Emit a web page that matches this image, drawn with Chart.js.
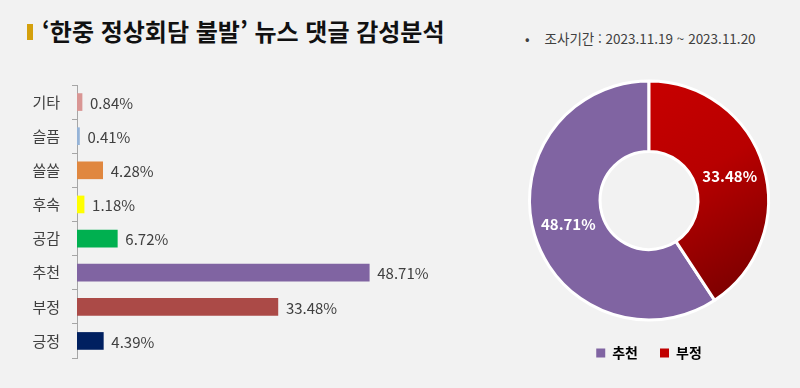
<!DOCTYPE html>
<html lang="ko">
<head>
<meta charset="utf-8">
<script src="https://cdn.jsdelivr.net/npm/chart.js@4.4.0/dist/chart.umd.min.js"></script>
<style>
  html, body { margin: 0; padding: 0; }
  body {
    width: 800px; height: 388px; background: #f2f2f2; position: relative; overflow: hidden;
    font-family: "Noto Sans CJK KR", "Noto Sans", sans-serif;
  }
  .mark { position: absolute; left: 27px; top: 24px; width: 6px; height: 16px; background: #d4a00c; }
  .title {
    position: absolute; left: 42px; top: 13px; font-size: 24px; font-weight: bold; color: #111;
    white-space: nowrap;
  }
  .period { position: absolute; left: 525px; top: 28px; font-size: 13.5px; color: #404040; white-space: nowrap; }
  .period span { margin-right: 15px; }
  #barWrap { position: absolute; left: 0; top: 0; width: 480px; height: 388px; }
  #donutWrap { position: absolute; left: 520px; top: 69px; width: 258px; height: 316px; }
</style>
</head>
<body>
<div class="mark"></div>
<div class="title">‘한중 정상회담 불발’ 뉴스 댓글 감성분석</div>
<div class="period"><span>•</span>조사기간 : 2023.11.19 ~ 2023.11.20</div>
<div id="barWrap"><canvas id="barChart"></canvas></div>
<div id="donutWrap"><canvas id="donutChart"></canvas></div>

<script>
// 감성 분류별 비율 (%)
const categories = ['기타', '슬픔', '쓸쓸', '후속', '공감', '추천', '부정', '긍정'];
const shares = [0.84, 0.41, 4.28, 1.18, 6.72, 48.71, 33.48, 4.39];
const barColors = ['#d99694', '#95b3d7', '#e0873f', '#ffff00', '#00b050', '#8064a2', '#ab4a47', '#002060'];

// 도넛 (추천 / 부정)
const donutLabels = ['추천', '부정'];
const donutValues = [48.71, 33.48];
const donutColors = ['#8064a2', '#c00000'];

const xMax = 60;
const fontFamily = '"Noto Sans CJK KR", "Noto Sans", sans-serif';

// 막대 끝에 값 표시
const barValueLabels = {
    id: 'barValueLabels',
    afterDatasetsDraw(chart) {
        const ctx = chart.ctx;
        const meta = chart.getDatasetMeta(0);
        ctx.save();
        ctx.font = '15px ' + fontFamily;
        ctx.fillStyle = '#404040';
        ctx.textBaseline = 'middle';
        ctx.textAlign = 'left';
        meta.data.forEach((bar, i) => {
            ctx.fillText(shares[i].toFixed(2) + '%', bar.x + 8, bar.y + 1);
        });
        ctx.restore();
    }
};

new Chart(document.getElementById('barChart'), {
    type: 'bar',
    data: {
        labels: categories,
        datasets: [{
            data: shares,
            backgroundColor: barColors,
            barThickness: 17
        }]
    },
    options: {
        indexAxis: 'y',
        responsive: true,
        maintainAspectRatio: false,
        animation: false,
        layout: { padding: { left: 0, right: 43, top: 85, bottom: 30 } },
        plugins: { legend: { display: false }, tooltip: { enabled: false } },
        scales: {
            x: { display: false, min: 0, max: xMax },
            y: {
                afterFit(scale) { scale.width = 77; },
                border: { color: '#a6a6a6' },
                grid: { drawOnChartArea: false, tickLength: 5, color: '#a6a6a6' },
                ticks: { color: '#404040', padding: 12, font: { size: 15, family: fontFamily } }
            }
        }
    },
    plugins: [barValueLabels]
});

// 도넛 조각 위 퍼센트
const donutValueLabels = {
    id: 'donutValueLabels',
    afterDatasetsDraw(chart) {
        const ctx = chart.ctx;
        const meta = chart.getDatasetMeta(0);
        ctx.save();
        ctx.font = 'bold 15px ' + fontFamily;
        ctx.fillStyle = '#ffffff';
        ctx.textAlign = 'center';
        ctx.textBaseline = 'middle';
        meta.data.forEach((arc, i) => {
            const p = arc.getCenterPoint();
            ctx.fillText(donutValues[i].toFixed(2) + '%', p.x, p.y);
        });
        ctx.restore();
    }
};

const donutTotal = donutValues.reduce((a, b) => a + b, 0);

new Chart(document.getElementById('donutChart'), {
    type: 'doughnut',
    data: {
        labels: donutLabels,
        datasets: [{
            data: donutValues,
            backgroundColor(c) {
                if (c.dataIndex !== 1) return donutColors[0];
                const area = c.chart.chartArea;
                if (!area) return donutColors[1];
                const cx = (area.left + area.right) / 2;
                const g = c.chart.ctx.createLinearGradient(cx, area.top, area.right, area.bottom - 40);
                g.addColorStop(0, '#c80000');
                g.addColorStop(0.45, '#b80000');
                g.addColorStop(1, '#780000');
                return g;
            },
            borderColor: '#ffffff',
            borderWidth: 3
        }]
    },
    options: {
        responsive: true,
        maintainAspectRatio: false,
        animation: false,
        cutout: '41%',
        // 부정 조각이 12시 방향에서 시작하도록 회전
        rotation: 360 * donutValues[1] / donutTotal,
        layout: { padding: { left: 8, right: 8, top: 8, bottom: 15 } },
        plugins: {
            tooltip: { enabled: false },
            legend: {
                position: 'bottom',
                labels: {
                    boxWidth: 9,
                    boxHeight: 9,
                    padding: 22,
                    color: '#595959',
                    generateLabels(chart) {
                        return donutLabels.map((l, i) => ({
                            text: l, fillStyle: donutColors[i], strokeStyle: donutColors[i],
                            lineWidth: 0, index: i, hidden: false
                        }));
                    },
                    font: { size: 14, weight: 'bold', family: fontFamily }
                }
            }
        }
    },
    plugins: [donutValueLabels]
});
</script>
</body>
</html>
